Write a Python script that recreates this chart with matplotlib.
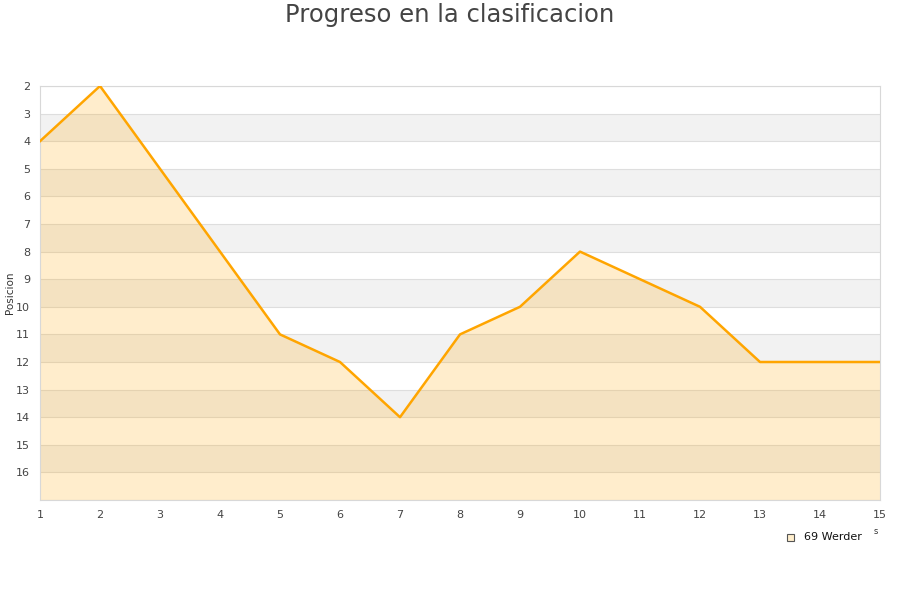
import matplotlib
matplotlib.use("Agg")
import matplotlib.pyplot as plt

# Datos de la grafica
jornadas = list(range(1, 16))
posiciones = [4, 2, 5, 8, 11, 12, 14, 11, 10, 8, 9, 10, 12, 12, 12]
equipo = "69 Werder"
y_ticks = list(range(2, 17))

fig = plt.figure(figsize=(9, 6), dpi=100)
ax = fig.add_axes([40 / 900, 100 / 600, 840 / 900, 414 / 600])

# Bandas alternas del fondo
for k in range(3, 17, 2):
    ax.axhspan(k, k + 1, color="#f2f2f2", zorder=0, lw=0)
for k in range(2, 18):
    ax.axhline(k, color="#dedede", lw=0.8, zorder=1)

# Area y linea
ax.fill_between(jornadas, posiciones, 17, color="#ffa500", alpha=0.2, lw=0, zorder=2)
ax.plot(jornadas, posiciones, color="#ffa500", lw=1.8, zorder=3)

ax.set_xlim(1, 15)
ax.set_ylim(17, 2)
ax.set_xticks(jornadas)
ax.set_yticks(y_ticks)
ax.tick_params(length=0, labelsize=8, colors="#444444", pad=7)
for s in ax.spines.values():
    s.set_color("#d8d8d8")

# Etiqueta del eje y
fig.text(10 / 900, 1 - 293 / 600, "Posicion", rotation=90, fontsize=7.5,
         color="#333333", ha="center", va="center")

fig.text(0.5, 1 - 15 / 600, "Progreso en la clasificacion", ha="center", va="center",
         fontsize=17.5, color="#444444")

# Leyenda
fig.patches.append(plt.Rectangle((787 / 900, 1 - 541 / 600), 7 / 900, 7 / 600,
                                 transform=fig.transFigure, facecolor="#ffeecc",
                                 edgecolor="#555555", lw=0.8))
fig.text(804 / 900, 1 - 537 / 600, equipo, fontsize=8, va="center", color="#111111")
fig.text(876 / 900, 1 - 531 / 600, "s", fontsize=6, va="center", ha="center", color="#333333")

plt.savefig("out.png", dpi=100)
